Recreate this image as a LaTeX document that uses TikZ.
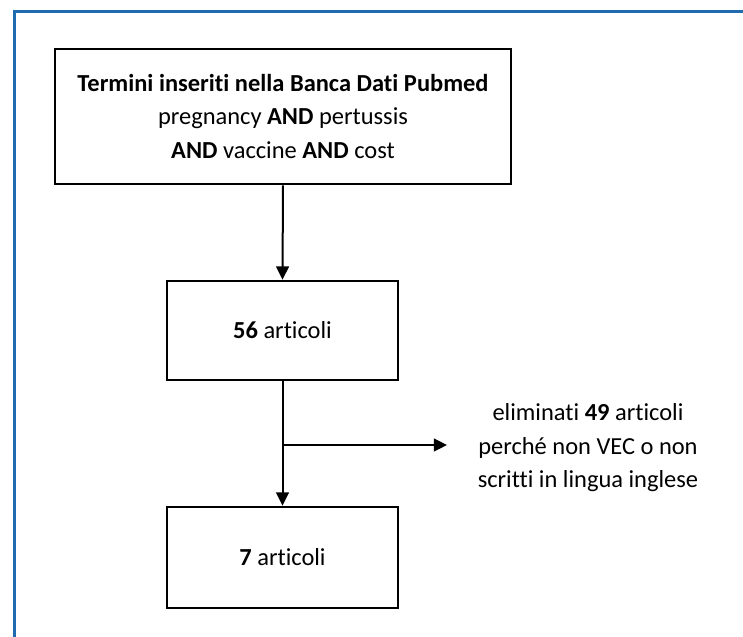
\documentclass[tikz,border=0pt]{standalone}
\usepackage{fontspec}
\setmainfont[Ligatures={NoCommon}]{Carlito}
\usepackage{tikz}
\usetikzlibrary{positioning, calc, arrows.meta}
\definecolor{frame blue}{HTML}{1F6BB0}
\tikzset{frame/.style={line width=0.075cm, draw=frame blue}}
\tikzset{stepbox/.style={draw, line width=0.07cm, align=center, inner sep=0pt, font=\fontsize{17.4}{23.8}\selectfont}}
\tikzset{flow/.style={line width=0.05cm, -{Triangle[length=0.33cm, width=0.32cm]}}}
\tikzset{note/.style={align=center, font=\fontsize{17.4}{23.8}\selectfont}}

\begin{document}
\begin{tikzpicture}
                \useasboundingbox (0, 0) rectangle (18.575, -15.925);
                \draw[frame] (0.35, -15.925) -- (0.35, -0.275) -- (18.575, -0.275);
                \node[stepbox, minimum width=11.4cm, minimum height=3.375cm] (terms) at (7.075, -2.9125)
                    {\textbf{Termini inseriti nella Banca Dati Pubmed}\\pregnancy \textbf{AND} pertussis\\\textbf{AND} vaccine \textbf{AND} cost};
                \node[stepbox, minimum width=5.775cm, minimum height=2.475cm] (found) at (7.0625, -8.2625) {\textbf{56} articoli};
                \node[stepbox, minimum width=5.775cm, minimum height=2.525cm] (kept) at (7.0625, -13.9375) {\textbf{7} articoli};
                \node[note] (removed) at (14.7, -11.2) {eliminati \textbf{49} articoli\\perché non VEC o non\\scritti in lingua inglese};
                \coordinate (split) at (found.south |- 0, -11.125);
                \coordinate (gap) at (11.175, -11.125);
                \draw[flow] (terms.south) -- (found.north);
                \draw[flow] (found.south) -- (kept.north);
                \draw[flow] (split) -- (gap);
            \end{tikzpicture}
\end{document}
